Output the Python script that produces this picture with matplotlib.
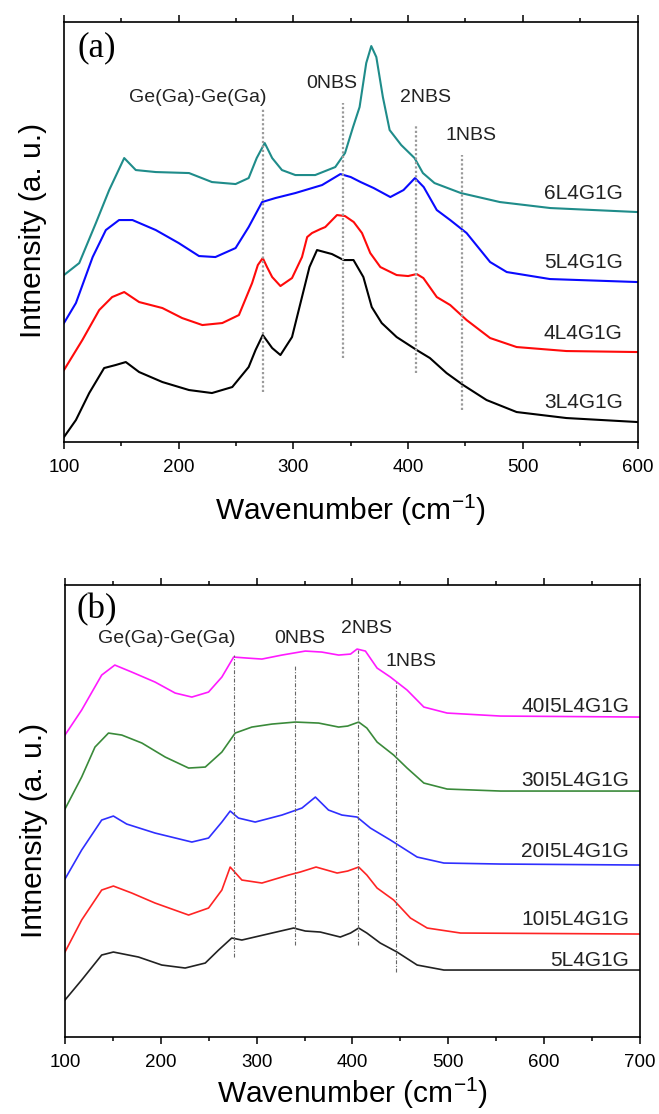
import matplotlib
matplotlib.use("Agg")
import matplotlib.pyplot as plt
from matplotlib.ticker import MultipleLocator

plt.rcParams['font.family'] = ['Liberation Sans', 'DejaVu Sans']
plt.rcParams['mathtext.default'] = 'regular'

# ---- panel (a): wavenumber (cm-1) / intensity (a.u., curves offset)
a_3l_x = [100, 110.4, 122, 135, 145, 153.9, 165.5, 185.8, 209, 229, 246.7, 261, 267, 273.3, 281.5,
          288.7, 298.8, 309, 314, 320.6, 333.6, 343.8, 352.4, 361, 368.3, 377, 390, 407.5, 419,
          433.5, 448, 468.4, 494.6, 538, 600]
a_3l_y = [5, 22, 49, 74, 77, 80, 70, 60, 52, 49, 55, 75, 92, 107, 94,
          87, 105, 152, 175, 192, 188, 182, 182, 165, 135, 119, 105, 92, 84,
          69, 57, 42, 30, 24, 20]

a_4l_x = [100, 116, 130.7, 142, 152.5, 165.5, 185.8, 203, 220.6, 238, 252.5, 264, 269, 273.3, 277,
          281.5, 288.7, 298.8, 307.5, 312, 316.2, 323.6, 327.8, 338, 345, 352.6, 359.8, 367, 375.8,
          390, 400, 407.5, 413.3, 425, 436.7, 451, 471.5, 494.6, 538, 600]
a_4l_y = [72, 102, 132, 145, 150, 140, 134, 124, 117, 119, 127, 159, 177, 184, 175,
          165, 156, 164, 185, 205, 209, 213, 215, 227, 226, 220, 209, 189, 175,
          167, 166, 168, 164, 145, 137, 122, 104, 95, 91, 90]

a_5l_x = [100, 110.4, 125, 136.5, 148, 159.7, 180, 200, 217.7, 232, 249.6, 261, 272.7, 284.3, 301.7,
          325, 341, 350, 358.6, 370, 384.5, 396, 406, 413.6, 425, 436.7, 451, 471.5, 486, 523.6, 600]
a_5l_y = [119, 139, 185, 212, 222, 222, 212, 199, 186, 185, 194, 215, 240, 244, 249,
          257, 268, 265, 260, 254, 245, 252, 264, 255, 232, 222, 209, 180, 170, 163, 160]

a_6l_x = [100, 113.3, 127.8, 139.4, 152.5, 162.6, 180, 209, 229, 249.6, 261, 268, 275, 281.5, 290,
          301.7, 319, 336.5, 345, 352, 357.7, 363.5, 367.9, 372.3, 378, 383.9, 394, 405.6, 412.9,
          423, 446, 480, 524, 600]
a_6l_y = [167, 179, 219, 252, 284, 272, 270, 269, 260, 258, 264, 284, 299, 284, 272,
          267, 267, 275, 289, 315, 335, 379, 396, 385, 345, 312, 297, 284, 269,
          259, 249, 240, 234, 230]

a_names = ["3L4G1G", "4L4G1G", "5L4G1G", "6L4G1G"]
a_name_y = [40, 109, 180, 249]
a_colors = ["black", "#ff0a0a", "#0a0aff", "#1f8c8a"]

a_marks = [273.3, 343.6, 407, 446.7]
a_mark_lo = [50, 84, 69, 32]
a_mark_hi = [334, 339, 317, 287]
a_mark_text = ["Ge(Ga)-Ge(Ga)", "0NBS", "2NBS", "1NBS"]
a_text_x = [216.5, 333.6, 415, 455]
a_text_y = [345, 359, 345, 307]

# ---- panel (b)
b_5l_x = [100, 117.4, 138.3, 150.5, 176.7, 201, 225.4, 246.4, 260.3, 274, 284.6, 316, 338.6, 350.8,
          366.4, 387.3, 398, 406.5, 415, 429, 446.5, 467.5, 495.4, 700]
b_5l_y = [37, 57, 82, 85, 80, 72, 69, 74, 87, 99, 97, 104, 109, 106,
          105, 100, 104, 109, 104, 94, 85, 72, 67, 67]

b_10_x = [100, 117.4, 138.3, 150.5, 169.7, 194, 229, 249.8, 263.7, 272.4, 284.6, 305.5, 333.4, 345.5,
          362, 384, 395, 406.5, 415, 425.7, 443, 460.5, 478, 512.8, 700]
b_10_y = [85, 117, 147, 151, 144, 134, 122, 129, 147, 170, 157, 154, 162, 165,
          170, 164, 166, 170, 162, 149, 137, 119, 109, 104, 103]

b_20_x = [100, 117.4, 138.3, 150.5, 164.4, 194, 232.4, 249.8, 263.7, 272.4, 281, 298.5, 326.4, 347.3,
          361.3, 375, 389, 404.8, 418.7, 439.6, 467.5, 495.4, 554.5, 700]
b_20_y = [158, 187, 217, 221, 213, 204, 195, 199, 215, 226, 219, 215, 222, 229,
          240, 227, 222, 220, 209, 197, 180, 174, 173, 172]

b_30_x = [100, 117.4, 131.3, 145.4, 159.3, 180.3, 204.6, 229, 246.4, 263.7, 277.6, 295, 316, 340.4,
          364.7, 385.6, 395, 406.5, 415, 425.7, 443, 457, 474.5, 498.8, 554.5, 700]
b_30_y = [228, 260, 290, 304, 302, 294, 280, 269, 270, 285, 304, 310, 313, 315,
          314, 310, 311, 315, 309, 295, 282, 269, 254, 248, 246, 246]

b_40_x = [100, 117.4, 138.3, 152, 169.7, 194, 215, 232.4, 249.8, 263.7, 276, 290, 305.5, 326.4,
          350.8, 368, 385.6, 398, 404.8, 413.5, 425.7, 439.6, 457, 474.5, 498.8, 554.5, 700]
b_40_y = [302, 327, 362, 372, 365, 355, 344, 340, 345, 360, 380, 379, 378, 382,
          386, 385, 382, 383, 388, 386, 369, 360, 347, 330, 324, 321, 320]

b_names = ["5L4G1G", "10I5L4G1G", "20I5L4G1G", "30I5L4G1G", "40I5L4G1G"]
b_name_y = [77, 118, 186, 257, 331]
b_colors = ["#222222", "#ff2424", "#2f2fff", "#3a8a3a", "#ff1aff"]

b_marks = [276, 340.4, 406, 445.8]
b_mark_lo = [80, 92, 92, 65]
b_mark_hi = [382, 372, 387, 355]
b_mark_text = ["Ge(Ga)-Ge(Ga)", "0NBS", "2NBS", "1NBS"]
b_text_x = [206.6, 345.5, 415, 461]
b_text_y = [399, 399, 409, 376]


def style_axes(ax, xmax, ymax, xpad, ylab_y):
    ax.set_xlim(100, xmax)
    ax.set_ylim(0, ymax)
    ax.set_yticks([])
    ax.xaxis.set_major_locator(MultipleLocator(100))
    ax.xaxis.set_minor_locator(MultipleLocator(50))
    ax.tick_params(axis='x', which='both', direction='out', top=True, labeltop=False,
                   labelsize=13.5, width=1.1, pad=7)
    ax.tick_params(axis='x', which='major', length=5)
    ax.tick_params(axis='x', which='minor', length=3)
    for s in ax.spines.values():
        s.set_linewidth(1.2)
    ax.set_xlabel("Wavenumber (cm$^{-1}$)", fontsize=21.5, labelpad=xpad)
    ax.set_ylabel("Intnensity (a. u.)", fontsize=21.5)
    ax.yaxis.set_label_coords(-0.029, ylab_y)


fig = plt.figure(figsize=(6.59, 11.14), dpi=100)
ax1 = fig.add_axes([0.0971, 0.6032, 0.8703, 0.3770])
ax2 = fig.add_axes([0.0986, 0.0691, 0.8725, 0.4057])

# panel (a)
a_xs = [a_3l_x, a_4l_x, a_5l_x, a_6l_x]
a_ys = [a_3l_y, a_4l_y, a_5l_y, a_6l_y]
for x, y, c in zip(a_xs, a_ys, a_colors):
    ax1.plot(x, y, color=c, lw=1.5)
for name, ny in zip(a_names, a_name_y):
    ax1.text(587, ny, name, ha='right', va='center', fontsize=15, color='#222222')
for m, lo, hi in zip(a_marks, a_mark_lo, a_mark_hi):
    ax1.vlines(m, lo, hi, colors='#9a9a9a', linestyles=(0, (1, 1)), lw=1.6)
for t, tx, ty in zip(a_mark_text, a_text_x, a_text_y):
    ax1.text(tx, ty, t, ha='center', va='center', fontsize=14, color='#222222')
ax1.text(112, 394, "(a)", ha='left', va='center', fontsize=25, family='Liberation Serif')
style_axes(ax1, 600, 420, 12, 0.505)

# panel (b)
b_xs = [b_5l_x, b_10_x, b_20_x, b_30_x, b_40_x]
b_ys = [b_5l_y, b_10_y, b_20_y, b_30_y, b_40_y]
for x, y, c in zip(b_xs, b_ys, b_colors):
    ax2.plot(x, y, color=c, lw=1.2)
for name, ny in zip(b_names, b_name_y):
    ax2.text(688.6, ny, name, ha='right', va='center', fontsize=15, color='#222222')
for m, lo, hi in zip(b_marks, b_mark_lo, b_mark_hi):
    ax2.vlines(m, lo, hi, colors='#666666', linestyles=(0, (3.5, 1.5, 1, 1.5)), lw=0.8)
for t, tx, ty in zip(b_mark_text, b_text_x, b_text_y):
    ax2.text(tx, ty, t, ha='center', va='center', fontsize=14, color='#222222')
ax2.text(112, 427, "(b)", ha='left', va='center', fontsize=25, family='Liberation Serif')
style_axes(ax2, 700, 452, 4, 0.456)

fig.savefig("out.png", dpi=100)
